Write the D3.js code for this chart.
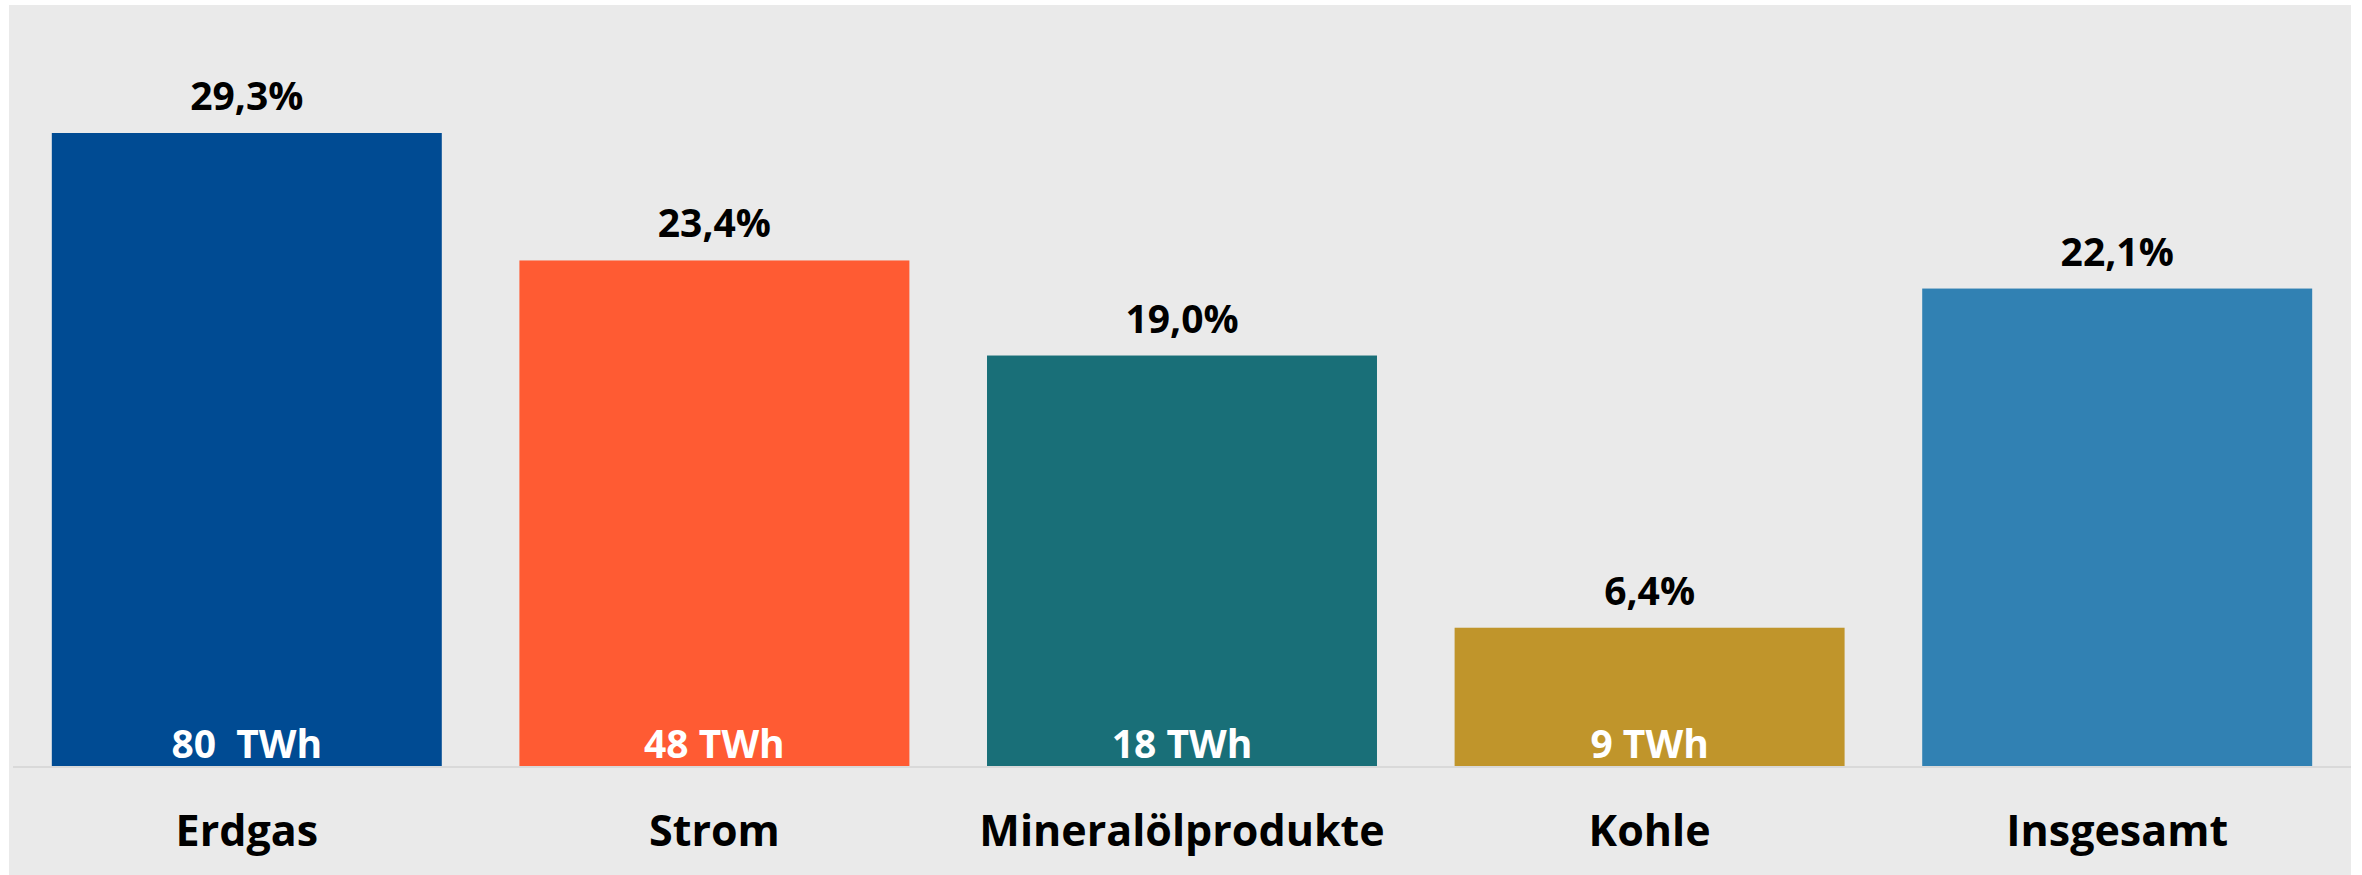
<!DOCTYPE html>
<html>
<head>
<meta charset="utf-8">
<script src="https://cdn.jsdelivr.net/npm/d3@7"></script>
<style>
  body { margin: 0; background: #ffffff; }
  text { font-family: "Open Sans", "Noto Sans", sans-serif; font-weight: 700; }
</style>
</head>
<body>
<div id="chart"></div>
<script>
var width = 2362;
var height = 875;

var categories = ["Erdgas", "Strom", "Mineralölprodukte", "Kohle", "Insgesamt"];
var shares = [29.3, 23.4, 19.0, 6.4, 22.1];
var shareLabels = ["29,3%", "23,4%", "19,0%", "6,4%", "22,1%"];
var energyLabels = ["80  TWh", "48 TWh", "18 TWh", "9 TWh", ""];
var colors = ["#004b93", "#ff5b33", "#196f78", "#c0952b", "#3181b3"];

var svg = d3.select("#chart").append("svg")
    .attr("width", width)
    .attr("height", height);

// panel background
svg.append("rect")
    .attr("x", 9)
    .attr("y", 5)
    .attr("width", 2342)
    .attr("height", 870)
    .attr("fill", "#eaeaea");

var x = d3.scaleBand()
    .domain(categories)
    .range([13, 2351])
    .paddingInner(0.166)
    .paddingOuter(0.083);

var y = d3.scaleLinear()
    .domain([0, 29.3])
    .range([766, 133]);

var bars = svg.append("g");

bars.selectAll("rect")
    .data(categories)
    .enter()
    .append("rect")
    .attr("x", function (d) { return x(d); })
    .attr("width", x.bandwidth())
    .attr("y", function (d, i) { return y(shares[i]); })
    .attr("height", function (d, i) { return y(0) - y(shares[i]); })
    .attr("fill", function (d, i) { return colors[i]; });

// baseline
svg.append("line")
    .attr("x1", 13)
    .attr("x2", 2351)
    .attr("y1", y(0) + 1)
    .attr("y2", y(0) + 1)
    .attr("stroke", "#d9d9d9")
    .attr("stroke-width", 2);

// percent labels above bars
svg.append("g").selectAll("text")
    .data(categories)
    .enter()
    .append("text")
    .attr("x", function (d) { return x(d) + x.bandwidth() / 2; })
    .attr("y", function (d, i) { return y(shares[i]) - 23; })
    .attr("text-anchor", "middle")
    .attr("font-size", 39)
    .attr("fill", "#000000")
    .text(function (d, i) { return shareLabels[i]; });

// TWh labels inside bars
svg.append("g").selectAll("text")
    .data(categories)
    .enter()
    .append("text")
    .attr("x", function (d) { return x(d) + x.bandwidth() / 2; })
    .attr("y", y(0) - 8)
    .attr("text-anchor", "middle")
    .attr("font-size", 39)
    .attr("fill", "#ffffff")
    .style("white-space", "pre")
    .text(function (d, i) { return energyLabels[i]; });

// category axis
var xAxis = d3.axisBottom(x).tickSize(0).tickPadding(0);
var axisG = svg.append("g")
    .attr("transform", "translate(0," + y(0) + ")")
    .call(xAxis);
axisG.select(".domain").remove();
axisG.selectAll("text")
    .attr("dy", 0)
    .attr("y", 80)
    .attr("font-size", 43)
    .attr("fill", "#000000")
    .style("font-family", "'Open Sans', 'Noto Sans', sans-serif")
    .style("font-weight", 700);
</script>
</body>
</html>
